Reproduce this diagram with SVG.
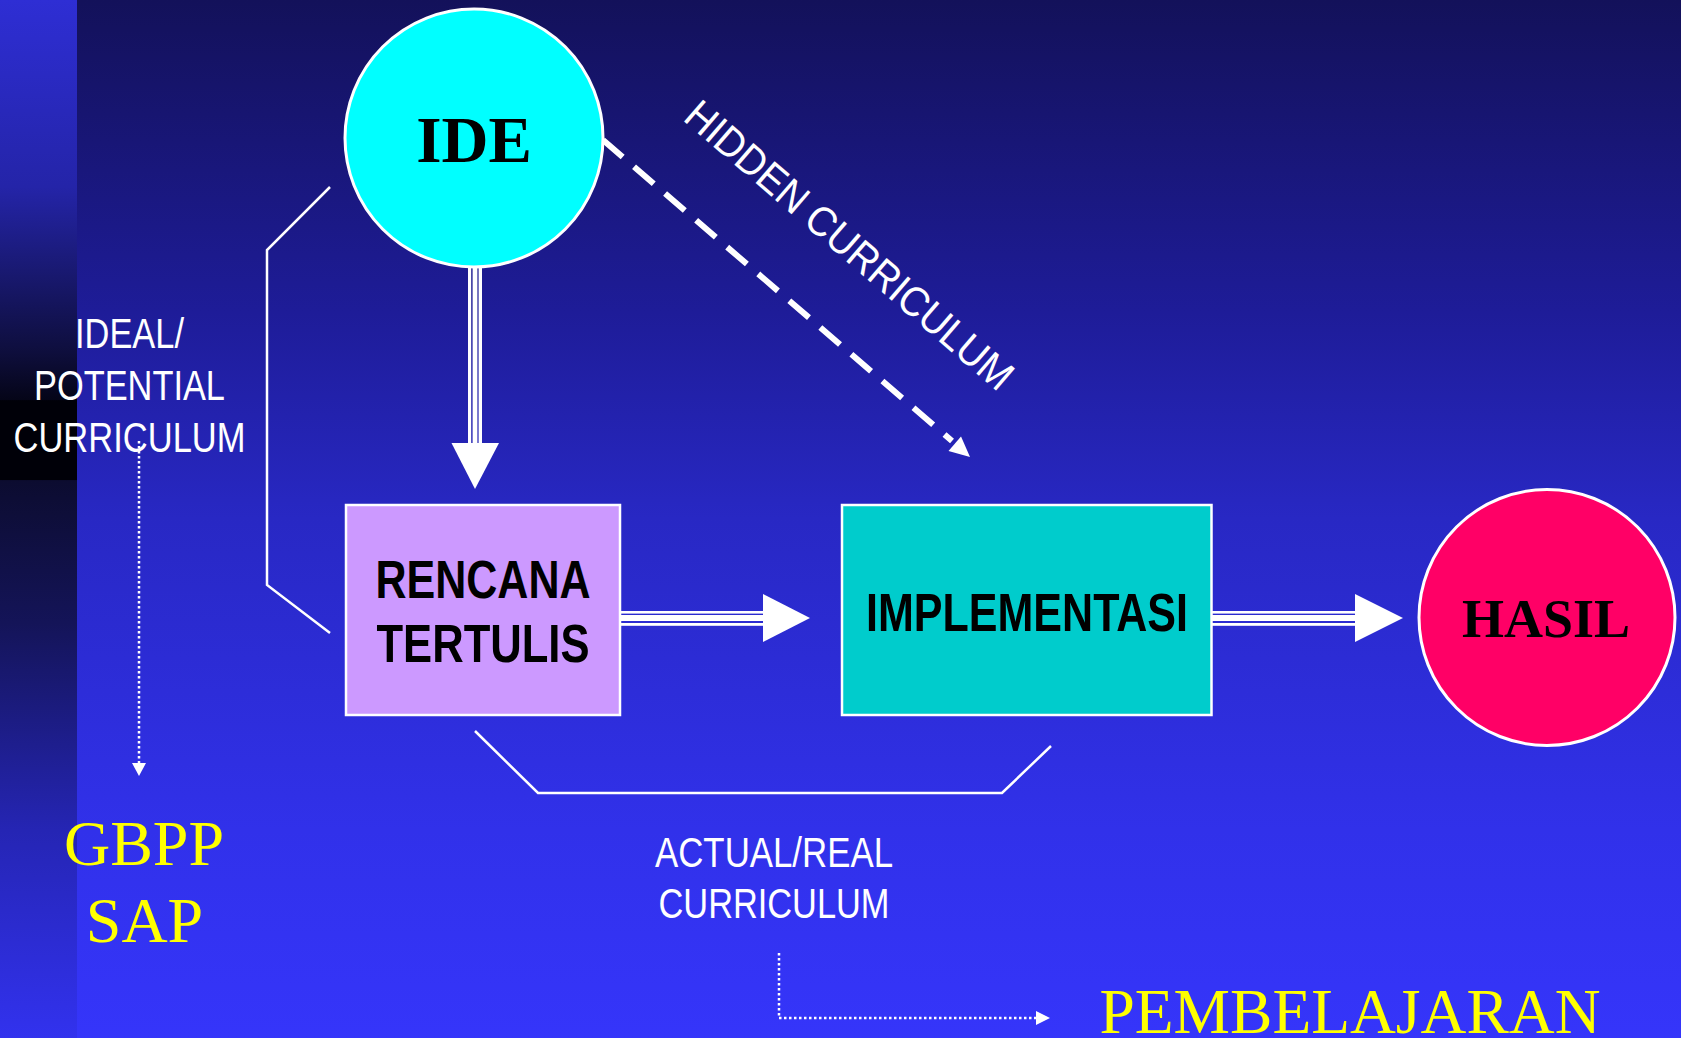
<svg xmlns="http://www.w3.org/2000/svg" width="1681" height="1038" viewBox="0 0 1681 1038">
<defs>
<linearGradient id="bg" x1="0" y1="0" x2="0" y2="1">
<stop offset="0" stop-color="#13115a"/>
<stop offset="0.3" stop-color="#1e1c98"/>
<stop offset="0.5" stop-color="#2828c4"/>
<stop offset="0.8" stop-color="#3131ea"/>
<stop offset="1" stop-color="#3535fa"/>
</linearGradient>
<linearGradient id="strip" x1="0" y1="0" x2="0" y2="1">
<stop offset="0" stop-color="#2e2ed4"/>
<stop offset="0.18" stop-color="#2424a8"/>
<stop offset="0.34" stop-color="#0e0e3c"/>
<stop offset="0.385" stop-color="#050518"/>
<stop offset="0.386" stop-color="#000008"/>
<stop offset="0.462" stop-color="#000008"/>
<stop offset="0.463" stop-color="#0c0c30"/>
<stop offset="0.6" stop-color="#141458"/>
<stop offset="0.8" stop-color="#2525b4"/>
<stop offset="1" stop-color="#3232ee"/>
</linearGradient>
<style>
.lbl{font-family:"Liberation Sans",Arial,sans-serif;fill:#ffffff;font-size:42px;text-anchor:middle}
.box{font-family:"Liberation Sans",Arial,sans-serif;font-weight:bold;fill:#000000;text-anchor:middle}
.ser{font-family:"Liberation Serif","Times New Roman",serif;text-anchor:middle}
.yel{fill:#ffff00;font-size:64px}
.w{stroke:#ffffff;fill:none}
.wf{fill:#ffffff}
</style>
</defs>
<rect x="0" y="0" width="1681" height="1038" fill="url(#bg)"/>
<rect x="0" y="0" width="77" height="1038" fill="url(#strip)"/>

<g id="connectors">
<g id="c-ide-rencana">
<rect x="468" y="267" width="3.2" height="177" class="wf"/>
<rect x="472.6" y="267" width="4.8" height="177" class="wf"/>
<rect x="478.6" y="267" width="3.4" height="177" class="wf"/>
<polygon points="451.5,443 499,443 475,489" class="wf"/>
</g>
<g id="c-rencana-impl">
<rect x="620" y="611" width="143" height="2.6" class="wf"/>
<rect x="620" y="615" width="143" height="6" class="wf"/>
<rect x="620" y="623" width="143" height="2.8" class="wf"/>
<polygon points="763,594 810,618 763,642" class="wf"/>
</g>
<g id="c-impl-hasil">
<rect x="1211" y="611" width="144" height="2.6" class="wf"/>
<rect x="1211" y="615" width="144" height="6" class="wf"/>
<rect x="1211" y="623" width="144" height="2.8" class="wf"/>
<polygon points="1355,594 1403,618 1355,642" class="wf"/>
</g>
<g id="c-hidden">
<line x1="603" y1="140" x2="952" y2="441" class="w" stroke-width="6" stroke-dasharray="26 15"/>
<polygon points="970,457 948.5,451 961,436.5" class="wf"/>
</g>
<polyline id="c-ideal-bracket" points="330,187 267,250 267,585 330,633" class="w" stroke-width="2.5"/>
<polyline id="c-actual-bracket" points="475,731 538,793 1002,793 1051,746" class="w" stroke-width="2.5"/>
<g id="c-gbpp">
<line x1="139" y1="441" x2="139" y2="764" class="w" stroke-width="2.5" stroke-dasharray="2.5 2.5"/>
<polygon points="132,763 146,763 139,776" class="wf"/>
</g>
<g id="c-pembelajaran">
<path d="M779,953 V1018 H1036" class="w" stroke-width="2.5" stroke-dasharray="2.5 2.5"/>
<polygon points="1036,1011 1036,1025 1050,1018" class="wf"/>
</g>
</g>

<g id="node-ide">
<circle cx="474" cy="138" r="129" fill="#00ffff" stroke="#ffffff" stroke-width="3"/>
<text x="474" y="162" class="ser" font-weight="bold" font-size="65" fill="#000000">IDE</text>
</g>

<g id="node-rencana">
<rect x="346" y="505" width="274" height="210" fill="#cc99ff" stroke="#ffffff" stroke-width="2.5"/>
<text x="483" y="598" class="box" font-size="53" textLength="215" lengthAdjust="spacingAndGlyphs">RENCANA</text>
<text x="483" y="662" class="box" font-size="53" textLength="213" lengthAdjust="spacingAndGlyphs">TERTULIS</text>
</g>

<g id="node-implementasi">
<rect x="842" y="505" width="369.5" height="210" fill="#00cccc" stroke="#ffffff" stroke-width="2.5"/>
<text x="1027" y="631" class="box" font-size="54" textLength="322" lengthAdjust="spacingAndGlyphs">IMPLEMENTASI</text>
</g>

<g id="node-hasil">
<circle cx="1547" cy="617.5" r="128" fill="#ff0066" stroke="#ffffff" stroke-width="3"/>
<text x="1546" y="637" class="ser" font-weight="bold" font-size="54" fill="#000000">HASIL</text>
</g>

<g id="label-ideal">
<text x="129.5" y="348" class="lbl" textLength="109" lengthAdjust="spacingAndGlyphs">IDEAL/</text>
<text x="129.5" y="400" class="lbl" textLength="191" lengthAdjust="spacingAndGlyphs">POTENTIAL</text>
<text x="129.5" y="452" class="lbl" textLength="232" lengthAdjust="spacingAndGlyphs">CURRICULUM</text>
</g>

<g id="label-hidden">
<text x="840" y="256" class="lbl" font-size="47" textLength="418" lengthAdjust="spacingAndGlyphs" transform="rotate(40.8 840 256)">HIDDEN CURRICULUM</text>
</g>

<g id="label-actual">
<text x="774" y="867" class="lbl" textLength="238" lengthAdjust="spacingAndGlyphs">ACTUAL/REAL</text>
<text x="774" y="918" class="lbl" textLength="231" lengthAdjust="spacingAndGlyphs">CURRICULUM</text>
</g>

<g id="node-gbpp">
<text x="144" y="865" class="ser yel">GBPP</text>
<text x="144.5" y="942" class="ser yel">SAP</text>
</g>

<g id="node-pembelajaran">
<text x="1350" y="1033" class="ser yel" font-size="63" textLength="501" lengthAdjust="spacingAndGlyphs">PEMBELAJARAN</text>
</g>
</svg>
